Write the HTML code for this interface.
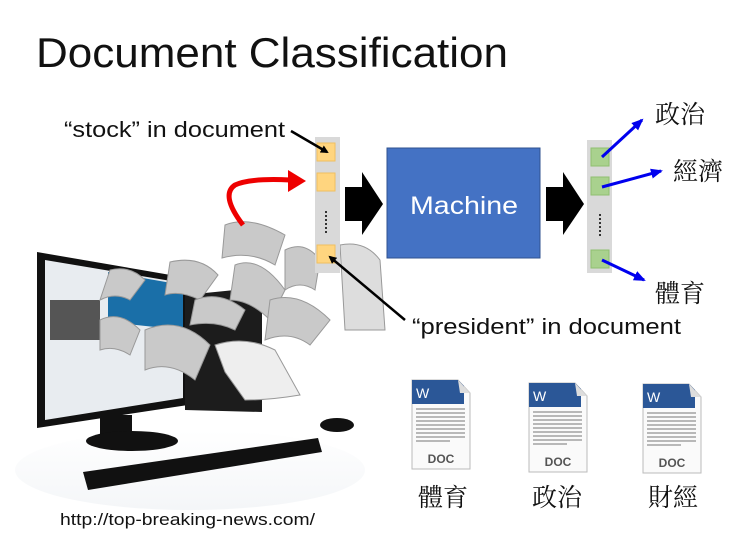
<!DOCTYPE html>
<html><head><meta charset="utf-8"><style>
html,body{margin:0;padding:0;background:#fff;}
svg{display:block;}
</style></head><body>
<svg width="753" height="554" viewBox="0 0 753 554" xmlns="http://www.w3.org/2000/svg" font-family="Liberation Sans, sans-serif">
<defs>
<marker id="bk" markerWidth="8" markerHeight="8" refX="6" refY="4" orient="auto" markerUnits="userSpaceOnUse"><path d="M0,0 L8,4 L0,8 z" fill="#000"/></marker>
<marker id="bl" markerWidth="12" markerHeight="10" refX="10" refY="5" orient="auto" markerUnits="userSpaceOnUse"><path d="M0,0 L12,5 L0,10 z" fill="#0000ee"/></marker>
<linearGradient id="fl" x1="0" x2="0" y1="0" y2="1"><stop offset="0" stop-color="#fff"/><stop offset="1" stop-color="#f4f6f8"/></linearGradient>
</defs>
<text x="36" y="67" font-size="42" fill="#111" textLength="472" lengthAdjust="spacingAndGlyphs">Document Classification</text>

<ellipse cx="190" cy="470" rx="175" ry="40" fill="url(#fl)"/>
<polygon points="37,252 188,278 188,405 37,428" fill="#111"/>
<polygon points="45,260 183,283 183,398 45,420" fill="#e8ecf0"/>
<rect x="50" y="300" width="50" height="40" fill="#555"/>
<polygon points="108,272 183,285 183,330 108,322" fill="#1a6fa8"/>
<rect x="100" y="415" width="32" height="22" fill="#111"/>
<ellipse cx="132" cy="441" rx="46" ry="10" fill="#111"/>
<polygon points="185,295 255,288 262,300 262,412 185,410" fill="#1c1c1c"/>
<polygon points="83,472 318,438 322,452 88,490" fill="#111"/>
<ellipse cx="337" cy="425" rx="17" ry="7" fill="#111"/>
<g fill="#c9c9c9" stroke="#999" stroke-width="1">
<path d="M225,225 Q250,215 285,235 L275,265 Q250,250 222,258 z"/>
<path d="M170,262 Q200,255 218,275 L200,300 Q180,290 165,295 z"/>
<path d="M235,265 Q260,255 285,290 L270,320 Q250,300 230,300 z"/>
<path d="M195,300 Q220,290 245,310 L235,330 Q215,320 190,325 z"/>
<path d="M285,250 Q305,240 320,260 L315,290 Q300,280 285,290 z"/>
<path d="M100,320 Q120,310 140,330 L130,355 Q115,345 100,350 z"/>
<path d="M145,330 Q180,315 210,345 L195,380 Q170,360 145,370 z"/>
<path d="M270,300 Q300,290 330,320 L310,345 Q290,330 265,340 z"/>
<path d="M215,345 Q245,335 275,350 L300,395 Q270,400 245,400 L225,372 z" fill="#eee"/>
<path d="M340,245 Q365,240 380,260 L385,330 L345,330 z" fill="#ddd"/>
<path d="M110,270 Q130,265 145,280 L130,300 Q115,292 100,300 z"/>
</g>
<path d="M243,225 Q220,195 235,185 Q250,178 290,180" fill="none" stroke="#ee0000" stroke-width="5"/>
<polygon points="288,170 306,181 288,192" fill="#ee0000"/>

<rect x="315" y="137" width="25" height="136" fill="#d9d9d9"/>
<rect x="317" y="143" width="18" height="18" fill="#ffd57f" stroke="#f0c060"/>
<rect x="317" y="173" width="18" height="18" fill="#ffd57f" stroke="#f0c060"/>
<rect x="317" y="245" width="18" height="18" fill="#ffd57f" stroke="#f0c060"/>
<line x1="326" y1="211" x2="326" y2="233" stroke="#333" stroke-width="2" stroke-dasharray="2,2"/>

<text x="64" y="137" font-size="22" fill="#111" textLength="221" lengthAdjust="spacingAndGlyphs">“stock” in document</text>
<line x1="291" y1="131" x2="327" y2="152" stroke="#000" stroke-width="2.5" marker-end="url(#bk)"/>
<text x="412" y="334" font-size="22" fill="#111" textLength="269" lengthAdjust="spacingAndGlyphs">“president” in document</text>
<line x1="405" y1="320" x2="330" y2="257" stroke="#000" stroke-width="2.5" marker-end="url(#bk)"/>

<polygon points="345,187 362,187 362,172 383,204 362,235 362,221 345,221" fill="#000"/>
<polygon points="546,187 563,187 563,172 584,204 563,235 563,221 546,221" fill="#000"/>

<rect x="387" y="148" width="153" height="110" fill="#4472c4" stroke="#2f528f"/>
<text x="410" y="214" font-size="25" fill="#fff" textLength="108" lengthAdjust="spacingAndGlyphs">Machine</text>

<rect x="587" y="140" width="25" height="133" fill="#d9d9d9"/>
<rect x="591" y="148" width="18" height="18" fill="#a9d18e" stroke="#8fbf70"/>
<rect x="591" y="177" width="18" height="18" fill="#a9d18e" stroke="#8fbf70"/>
<rect x="591" y="250" width="18" height="18" fill="#a9d18e" stroke="#8fbf70"/>
<line x1="600" y1="214" x2="600" y2="237" stroke="#333" stroke-width="2" stroke-dasharray="2,2"/>
<line x1="602" y1="157" x2="642" y2="120" stroke="#0000ee" stroke-width="3" marker-end="url(#bl)"/>
<line x1="602" y1="187" x2="661" y2="171" stroke="#0000ee" stroke-width="3" marker-end="url(#bl)"/>
<line x1="602" y1="260" x2="644" y2="280" stroke="#0000ee" stroke-width="3" marker-end="url(#bl)"/>
<g font-family="Liberation Serif, Noto Serif CJK SC, serif" font-size="25" fill="#111">
<text x="655" y="123">政治</text>
<text x="673" y="180">經濟</text>
<text x="655" y="302">體育</text>
<text x="418" y="506">體育</text>
<text x="532" y="506">政治</text>
<text x="648" y="506">財經</text>
</g>

<g id="d1">
<path d="M412,380 L458,380 L470,393 L470,469 L412,469 z" fill="#fafafa" stroke="#bbb"/>
<path d="M412,380 L458,380 L464,386 L464,404 L412,404 z" fill="#2b5797"/>
<path d="M458,380 L470,393 L460,393 z" fill="#ddd"/>
<text x="416" y="398" font-size="14" fill="#fff">W</text>
<g stroke="#777" stroke-width="1">
<line x1="416" y1="409" x2="465" y2="409"/><line x1="416" y1="413" x2="465" y2="413"/><line x1="416" y1="417" x2="465" y2="417"/><line x1="416" y1="421" x2="465" y2="421"/><line x1="416" y1="425" x2="465" y2="425"/><line x1="416" y1="429" x2="465" y2="429"/><line x1="416" y1="433" x2="465" y2="433"/><line x1="416" y1="437" x2="465" y2="437"/><line x1="416" y1="441" x2="450" y2="441"/>
</g>
<text x="441" y="463" font-size="12" font-weight="bold" fill="#555" text-anchor="middle">DOC</text>
</g>
<use href="#d1" transform="translate(117,3)"/>
<use href="#d1" transform="translate(231,4)"/>

<text x="60" y="525" font-size="17" fill="#111" textLength="255" lengthAdjust="spacingAndGlyphs">http://top-breaking-news.com/</text>
</svg>
</body></html>
